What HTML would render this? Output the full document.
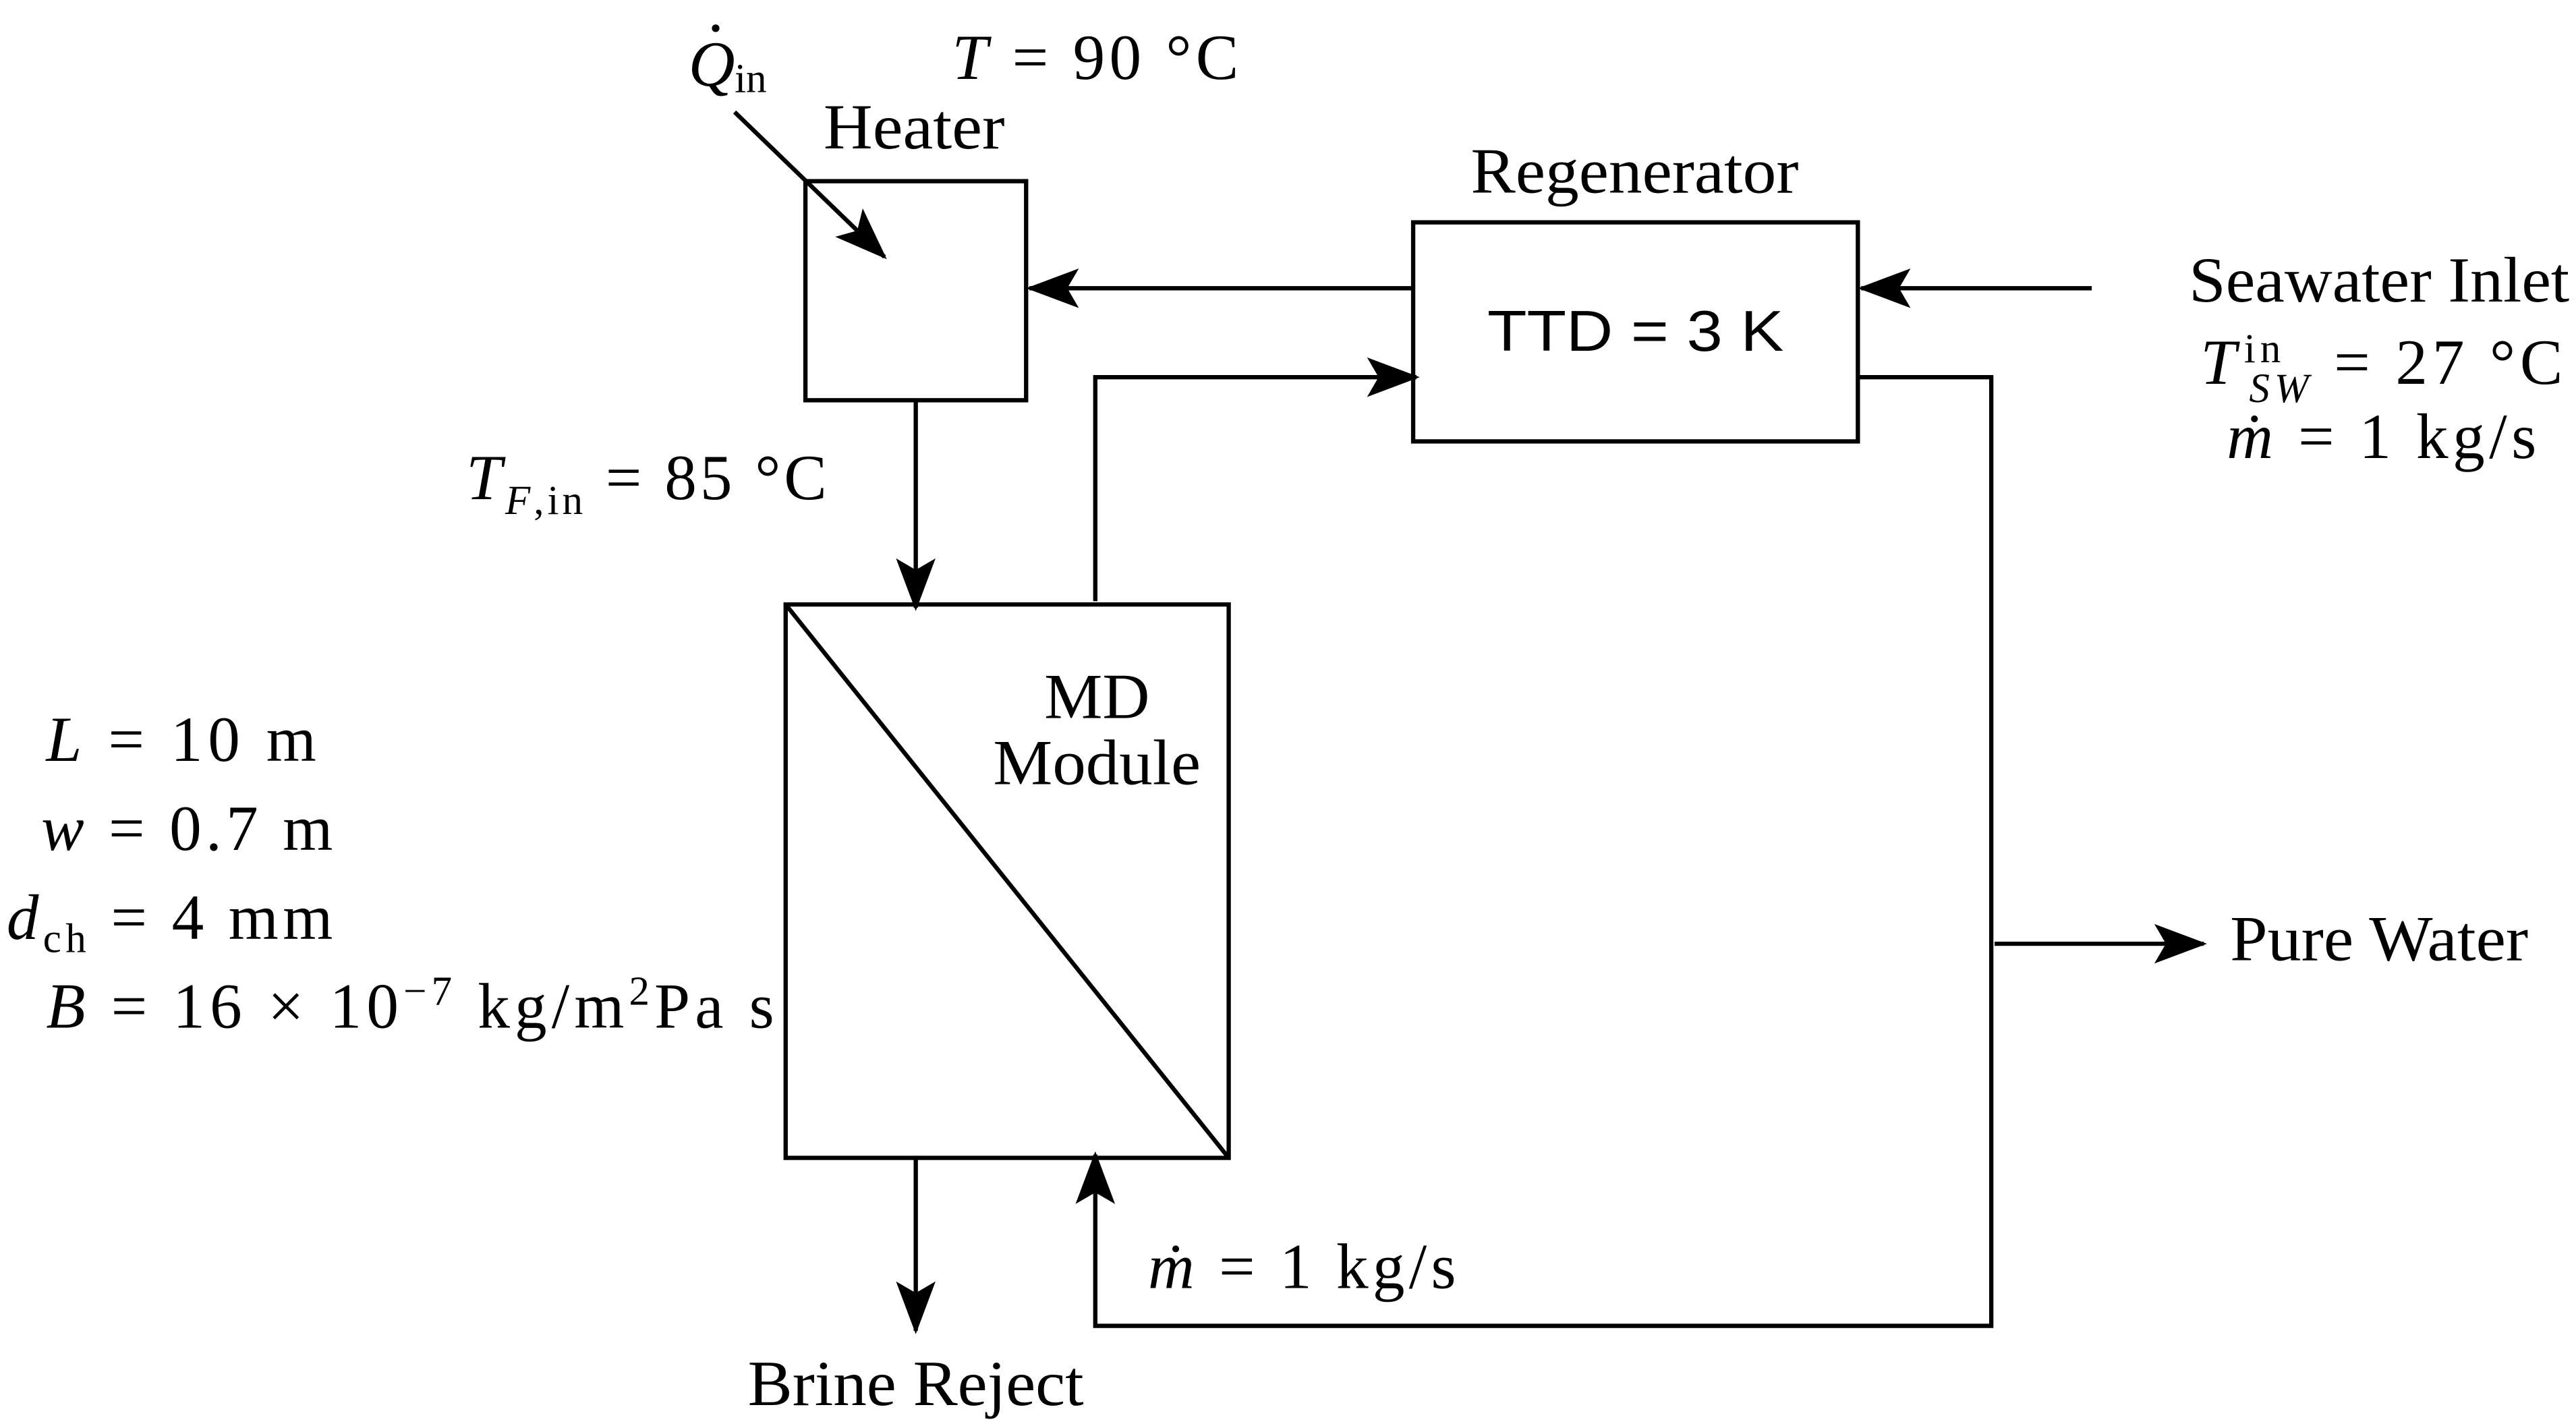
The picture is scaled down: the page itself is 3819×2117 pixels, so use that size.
<!DOCTYPE html>
<html><head><meta charset="utf-8"><style>
html,body{margin:0;padding:0;background:#fff;}
svg{display:block;}
text{font-family:"Liberation Serif",serif;font-size:39px;fill:#000;}
.i{font-style:italic;}
</style></head><body>
<svg width="3819" height="2117" viewBox="0 0 1564 867" xmlns="http://www.w3.org/2000/svg">
<defs>
<marker id="b" markerWidth="32" markerHeight="24" refX="30" refY="12" orient="auto" markerUnits="userSpaceOnUse" viewBox="0 0 32 24">
<path d="M0,0 L32,12 L0,24 L7,12 z" fill="#000"/>
</marker>
</defs>
<g fill="none" stroke="#000" stroke-width="2.6">
<rect x="489" y="110" width="134" height="133"/>
<rect x="858" y="135" width="270" height="133"/>
<rect x="477" y="367" width="269" height="336"/>
<line x1="477" y1="367" x2="746" y2="703"/>
<line x1="446" y1="68" x2="537" y2="156" marker-end="url(#b)"/>
<line x1="858" y1="175" x2="625" y2="175" marker-end="url(#b)"/>
<line x1="1270" y1="175" x2="1130" y2="175" marker-end="url(#b)"/>
<polyline points="665,365 665,229 860,229" marker-end="url(#b)"/>
<polyline points="1128,229 1209,229 1209,805 665,805 665,701" marker-end="url(#b)"/>
<line x1="1211" y1="573" x2="1338" y2="573" marker-end="url(#b)"/>
<line x1="556" y1="243" x2="556" y2="369" marker-end="url(#b)"/>
<line x1="556" y1="703" x2="556" y2="808" marker-end="url(#b)"/>
</g>
<text x="418" y="52" class="i">Q</text><text x="428" y="30">·</text><text x="446" y="56" style="font-size:25px">in</text>
<text x="578" y="48" textLength="174" lengthAdjust="spacing"><tspan class="i">T</tspan> = 90 °C</text>
<text x="500" y="90" textLength="110" lengthAdjust="spacingAndGlyphs">Heater</text>
<text x="893" y="117" textLength="199" lengthAdjust="spacingAndGlyphs">Regenerator</text>
<text x="903" y="213" textLength="180" lengthAdjust="spacingAndGlyphs" style="font-family:'Liberation Sans',sans-serif;font-size:35px">TTD = 3 K</text>
<text x="283" y="303" textLength="219" lengthAdjust="spacing"><tspan class="i">T</tspan><tspan class="i" dy="9" style="font-size:25px">F</tspan><tspan style="font-size:25px">,in</tspan><tspan dy="-9"> = 85 °C</tspan></text>
<text x="634" y="436" textLength="64" lengthAdjust="spacingAndGlyphs">MD</text>
<text x="603" y="476" textLength="126" lengthAdjust="spacingAndGlyphs">Module</text>
<text x="454" y="853" textLength="204" lengthAdjust="spacingAndGlyphs">Brine Reject</text>
<text x="697" y="782" textLength="187" lengthAdjust="spacing"><tspan class="i">ṁ</tspan> = 1 kg/s</text>
<text x="1354" y="583" textLength="181" lengthAdjust="spacingAndGlyphs">Pure Water</text>
<text x="1329" y="183" textLength="231" lengthAdjust="spacingAndGlyphs">Seawater Inlet</text>
<text x="1336" y="233" textLength="220" lengthAdjust="spacing"><tspan class="i">T</tspan><tspan dx="2" dy="-13" style="font-size:25px">in</tspan><tspan class="i" dx="-22" dy="24" style="font-size:25px">SW</tspan><tspan dy="-11"> = 27 °C</tspan></text>
<text x="1352" y="278" textLength="188" lengthAdjust="spacing"><tspan class="i">ṁ</tspan> = 1 kg/s</text>
<text x="28" y="462" textLength="164" lengthAdjust="spacing"><tspan class="i">L</tspan> = 10 m</text>
<text x="25" y="516" textLength="177" lengthAdjust="spacing"><tspan class="i">w</tspan> = 0.7 m</text>
<text x="4" y="570" textLength="198" lengthAdjust="spacing"><tspan class="i">d</tspan><tspan dy="8" style="font-size:25px">ch</tspan><tspan dy="-8"> = 4 mm</tspan></text>
<text x="28" y="624" textLength="442" lengthAdjust="spacing"><tspan class="i">B</tspan> = 16 × 10<tspan dy="-14" style="font-size:25px">−7</tspan><tspan dy="14"> kg/m</tspan><tspan dy="-14" style="font-size:25px">2</tspan><tspan dy="14">Pa s</tspan></text>
</svg>
</body></html>
